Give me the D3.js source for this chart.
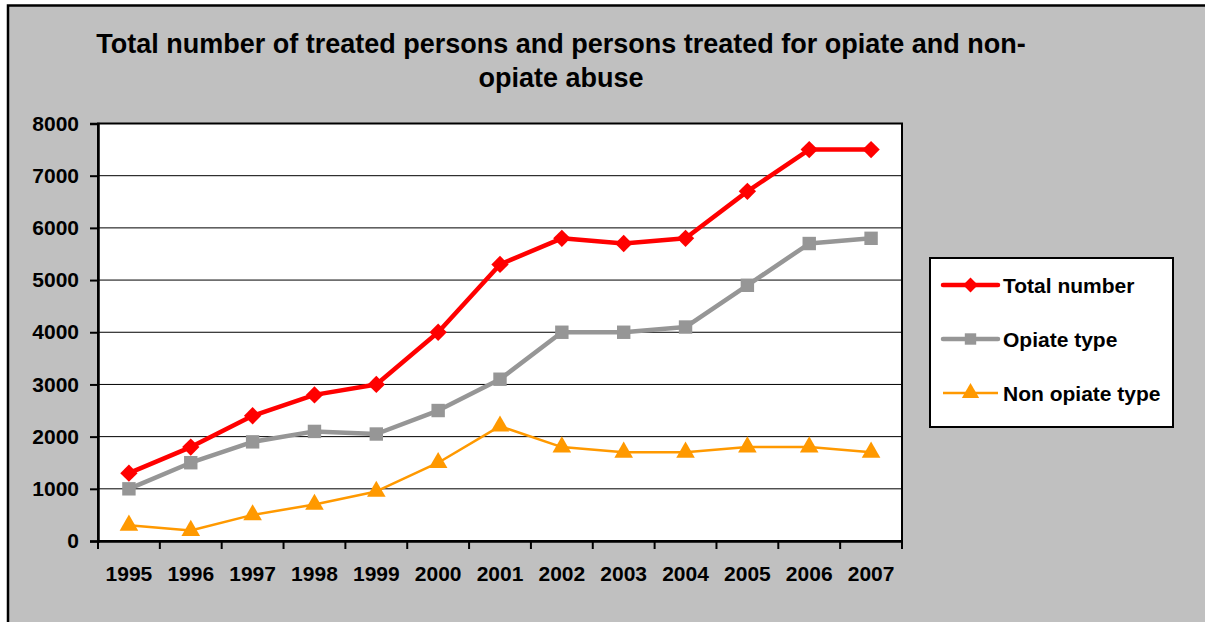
<!DOCTYPE html>
<html><head><meta charset="utf-8">
<script src="https://cdn.jsdelivr.net/npm/d3@7"></script>
<style>body{margin:0;background:#fff;}svg{display:block;font-family:Arial,"Liberation Sans",sans-serif;}</style>
</head><body>
<svg id="c" width="1205" height="622"></svg>
<script>
const years = ["1995","1996","1997","1998","1999","2000","2001","2002","2003","2004","2005","2006","2007"];
const totalNumber = [1300,1800,2400,2800,3000,4000,5300,5800,5700,5800,6700,7500,7500];
const opiateType = [1000,1500,1900,2100,2050,2500,3100,4000,4000,4100,4900,5700,5800];
const nonOpiateType = [300,200,500,700,950,1500,2200,1800,1700,1700,1800,1800,1700];
const yTicks = [0,1000,2000,3000,4000,5000,6000,7000,8000];
const seriesNames = ["Total number","Opiate type","Non opiate type"];

const FF = "Arial,'Liberation Sans',sans-serif";
const svg = d3.select("#c");
svg.append("rect").attr("x",8).attr("y",5.5).attr("width",1205).attr("height",622).attr("fill","#c0c0c0").attr("stroke","#000").attr("stroke-width",2.5);

const L=98,R=902,T=123.5,B=541;
const x = d3.scaleBand().domain(years).range([L,R]);
const y = d3.scaleLinear().domain([0,8000]).range([B,T]);

svg.append("rect").attr("x",L).attr("y",T).attr("width",R-L).attr("height",B-T).attr("fill","#fff");

// gridlines
svg.append("g").selectAll("line").data(yTicks.filter(d=>d>0&&d<8000)).join("line")
  .attr("x1",L).attr("x2",R).attr("y1",d=>y(d)).attr("y2",d=>y(d)).attr("stroke","#000").attr("stroke-width",1);

svg.append("rect").attr("x",L).attr("y",T).attr("width",R-L).attr("height",B-T).attr("fill","none").attr("stroke","#000").attr("stroke-width",2);

// axes
const yAxis = svg.append("g").attr("transform",`translate(${L},0)`).call(d3.axisLeft(y).tickValues(yTicks).tickFormat(d3.format("d")).tickSize(8).tickPadding(11));
yAxis.select(".domain").attr("stroke-width",2.5);
yAxis.selectAll(".tick line").attr("stroke-width",2);
yAxis.selectAll("text").attr("font-size","21px").attr("font-weight","bold").attr("fill","#000").attr("font-family",FF);

const xAxis = svg.append("g").attr("transform",`translate(0,${B})`).call(d3.axisBottom(x).tickSize(0).tickPadding(25));
xAxis.select(".domain").attr("stroke-width",2.5);
xAxis.selectAll("text").attr("font-size","21px").attr("font-weight","bold").attr("fill","#000").attr("font-family",FF);
// tick marks at band boundaries
const bounds = years.map(d=>x(d)).concat([R]);
svg.append("g").selectAll("line").data(bounds).join("line")
  .attr("x1",d=>d).attr("x2",d=>d).attr("y1",B).attr("y2",B+8).attr("stroke","#000").attr("stroke-width",2);

const cx = d=>x(d)+x.bandwidth()/2;
const diamond = {draw(ctx,size){const r=Math.sqrt(size/2);ctx.moveTo(0,-r);ctx.lineTo(r,0);ctx.lineTo(0,r);ctx.lineTo(-r,0);ctx.closePath();}};
const series = [
  {name:seriesNames[0], vals:totalNumber, color:"#ff0000", w:4.5, sym:diamond, size:150},
  {name:seriesNames[1], vals:opiateType, color:"#969696", w:4.5, sym:d3.symbolSquare, size:180},
  {name:seriesNames[2], vals:nonOpiateType, color:"#ff9900", w:2.5, sym:d3.symbolTriangle, size:150}
];
const line = d3.line().x((d,i)=>cx(years[i])).y(d=>y(d));
series.slice().reverse().forEach(s=>{
  svg.append("path").datum(s.vals).attr("d",line).attr("fill","none").attr("stroke",s.color).attr("stroke-width",s.w).attr("stroke-linejoin","round");
  svg.append("g").selectAll("path").data(s.vals).join("path")
    .attr("d",d3.symbol().type(s.sym).size(s.size))
    .attr("transform",(d,i)=>`translate(${cx(years[i])},${y(d)})`)
    .attr("fill",s.color);
});

// title
const title = svg.append("text").attr("text-anchor","middle").attr("font-size","27px").attr("font-weight","bold").attr("fill","#000").attr("font-family",FF);
title.append("tspan").attr("x",561).attr("y",53).text("Total number of treated persons and persons treated for opiate and non-");
title.append("tspan").attr("x",561).attr("y",87).text("opiate abuse");

// legend
svg.append("rect").attr("x",930).attr("y",258).attr("width",243).attr("height",169).attr("fill","#fff").attr("stroke","#000").attr("stroke-width",2);
const ly = [285,339,393];
const lsize = [110,130,130];
series.forEach((s,i)=>{
  svg.append("line").attr("x1",943).attr("x2",998).attr("y1",ly[i]).attr("y2",ly[i]).attr("stroke",s.color).attr("stroke-width",s.w).attr("stroke-linecap",i<2?"round":"butt");
  svg.append("path").attr("d",d3.symbol().type(s.sym).size(lsize[i])).attr("transform",`translate(970.5,${ly[i]})`).attr("fill",s.color);
  svg.append("text").attr("x",1003).attr("y",ly[i]+8).attr("font-size","21px").attr("font-weight","bold").attr("fill","#000").attr("font-family",FF).text(s.name);
});
</script>
</body></html>
